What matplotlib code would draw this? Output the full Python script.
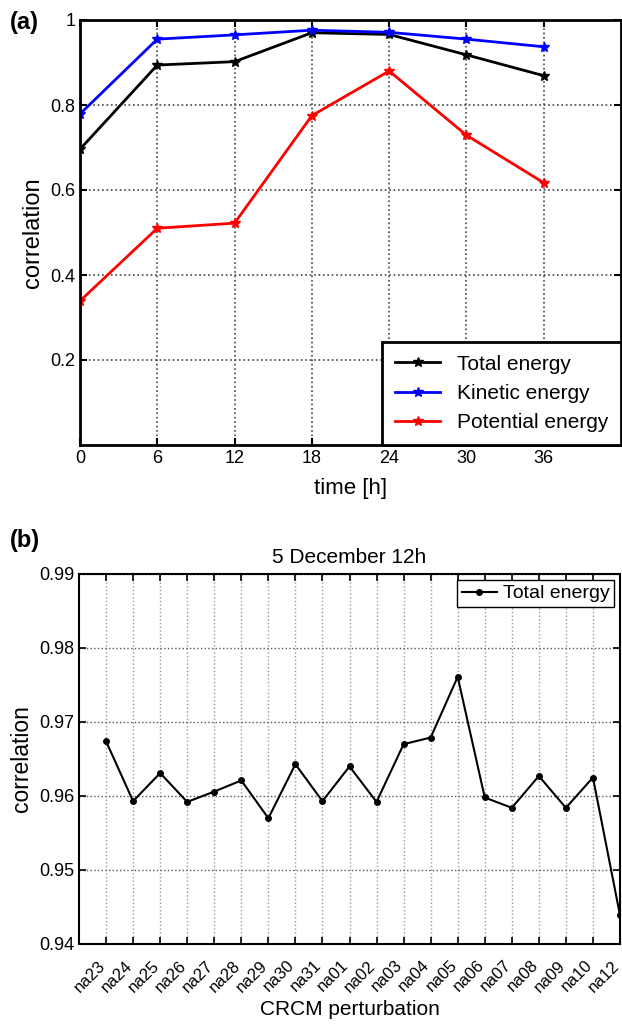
import numpy as np
import matplotlib
matplotlib.use('Agg')
import matplotlib.pyplot as plt

plt.rcParams['font.family'] = ['Liberation Sans', 'DejaVu Sans']

# panel (a) data
hours = [0, 6, 12, 18, 24, 30, 36]
total_energy = [0.696, 0.894, 0.902, 0.970, 0.966, 0.918, 0.869]
kinetic_energy = [0.779, 0.955, 0.965, 0.976, 0.971, 0.955, 0.937]
potential_energy = [0.339, 0.510, 0.522, 0.775, 0.880, 0.729, 0.617]

# panel (b) data
members = ['na23', 'na24', 'na25', 'na26', 'na27', 'na28', 'na29', 'na30', 'na31', 'na01',
           'na02', 'na03', 'na04', 'na05', 'na06', 'na07', 'na08', 'na09', 'na10', 'na12']
member_corr = [0.9674, 0.9593, 0.9631, 0.9592, 0.9606, 0.9621, 0.9570, 0.9643, 0.9593, 0.9640,
               0.9592, 0.9670, 0.9679, 0.9761, 0.9598, 0.9584, 0.9627, 0.9584, 0.9625, 0.9439]

fig = plt.figure(figsize=(6.22, 10.24), dpi=100)

# ---- (a) ----
ax1 = fig.add_axes([80/622, 1 - 445/1024, 541/622, 425/1024])
ax1.plot(hours, total_energy, color='black', lw=2, marker='*', ms=7, label='Total energy')
ax1.plot(hours, kinetic_energy, color='blue', lw=2, marker='*', ms=7, label='Kinetic energy')
ax1.plot(hours, potential_energy, color='red', lw=2, marker='*', ms=7, label='Potential energy')
ax1.set_xlim(0, 42)
ax1.set_ylim(0, 1)
ax1.set_xticks([0, 6, 12, 18, 24, 30, 36])
ax1.set_yticks([0.2, 0.4, 0.6, 0.8, 1.0])
ax1.set_yticklabels(['0.2', '0.4', '0.6', '0.8', '1'])
ax1.tick_params(direction='in', top=True, right=True, labelsize=13, width=1.5, length=5)
ax1.grid(True, linestyle=':', color='#444444', lw=1.2)
for s in ax1.spines.values():
    s.set_linewidth(2)
ax1.set_xlabel('time [h]', fontsize=16, labelpad=8)
ax1.set_ylabel('correlation', fontsize=17, labelpad=4)
leg1 = ax1.legend(loc='lower right', fontsize=15, borderaxespad=0, fancybox=False,
                  edgecolor='black', framealpha=1, handlelength=2.2, borderpad=0.6,
                  labelspacing=0.5)
leg1.get_frame().set_linewidth(2)
fig.text(10/622, 1 - 22/1024, '(a)', fontsize=17, fontweight='bold', va='center')

# ---- (b) ----
ax2 = fig.add_axes([79/622, 1 - 944/1024, 541/622, 370/1024])
x = np.arange(1, len(members) + 1)
ax2.plot(x, member_corr, color='black', lw=1.5, marker='o', ms=4, label='Total energy')
ax2.set_xlim(0, 20)
ax2.set_ylim(0.94, 0.99)
ax2.set_xticks(x)
# anchor at the baseline so the rotated text does not stick out right of its tick
ax2.set_xticklabels(members, rotation=45, ha='right', va='baseline', rotation_mode='anchor')
ax2.set_yticks([0.94, 0.95, 0.96, 0.97, 0.98, 0.99])
ax2.set_yticklabels(['0.94', '0.95', '0.96', '0.97', '0.98', '0.99'])
ax2.tick_params(direction='in', top=True, right=True, labelsize=13, width=1.2, length=5)
ax2.tick_params(axis='x', labelsize=12, pad=16)
ax2.grid(True, axis='x', linestyle=':', color='#999999', lw=1)
ax2.grid(True, axis='y', linestyle=':', color='#555555', lw=1)
for s in ax2.spines.values():
    s.set_linewidth(1.5)
ax2.set_xlabel('CRCM perturbation', fontsize=15, labelpad=4)
ax2.set_ylabel('correlation', fontsize=16.5, labelpad=4)
ax2.set_title('5 December 12h', fontsize=15, pad=8)
leg2 = ax2.legend(loc='upper right', fontsize=14, borderaxespad=0.3, fancybox=False,
                  edgecolor='black', framealpha=1, handlelength=1.8, borderpad=0.25,
                  handletextpad=0.3)
leg2.get_frame().set_linewidth(1)
fig.text(10/622, 1 - 540/1024, '(b)', fontsize=17, fontweight='bold', va='center')

fig.savefig('out.png', dpi=100)
